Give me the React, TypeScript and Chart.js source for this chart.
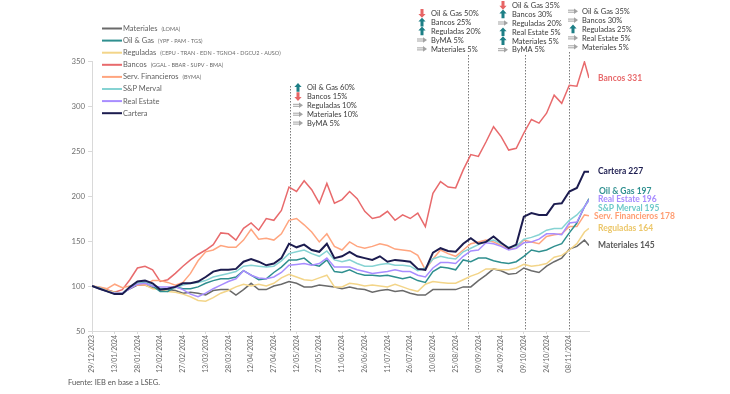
import React, { useEffect, useRef } from "react";
import { Chart, registerables } from "chart.js";
Chart.register(...registerables);

// days elapsed since 29/12/2023
const days = [0,5,10,15,20,25,30,35,40,45,50,55,60,65,70,75,80,85,90,95,100,105,110,115,120,125,130,135,140,145,150,155,160,165,170,175,180,185,190,195,200,205,210,215,220,225,230,235,240,245,250,255,260,265,270,275,280,285,290,295,300,305,310,315,320,325,328];

const materiales = [100,98,95,93,92,97,101,101,98,97,96,95,92,93,92,90,95,96,96,90,96,103,96,96,100,102,105,103,99,99,101,100,99,97,99,97,96,93,95,96,94,95,92,90,90,96,96,96,96,99,99,106,112,119,117,113,114,120,117,115,122,127,131,141,144,151,145];
const oilGas = [100,97,94,91,91,98,104,104,100,94,94,99,97,97,99,103,106,108,108,110,117,112,107,108,115,121,129,129,131,124,122,129,116,115,118,114,112,112,111,112,110,108,110,106,104,116,121,120,118,129,127,131,131,128,126,125,127,133,140,138,140,144,147,159,170,188,197];
const reguladas = [100,98,95,93,92,98,102,101,97,96,94,93,91,88,84,83,87,92,95,99,102,100,102,100,103,109,113,110,107,106,109,112,99,99,103,102,100,101,100,99,102,99,96,94,102,105,104,103,103,107,111,114,119,119,118,118,120,124,122,123,125,132,134,140,147,160,164];
const bancos = [100,98,96,93,96,107,120,122,118,105,107,114,122,129,135,140,146,159,158,151,164,170,162,175,173,184,210,205,217,207,192,214,192,196,205,197,183,175,177,183,173,179,175,181,166,203,216,210,209,229,246,244,260,277,266,251,253,270,285,281,292,312,303,323,322,349,331];
const servFinancieros = [100,99,97,102,98,100,101,101,106,106,104,101,104,114,128,138,140,145,143,143,151,163,152,153,151,158,173,175,168,160,149,158,144,140,149,144,142,144,147,145,141,140,139,134,118,130,140,136,133,140,147,149,151,149,145,141,142,151,149,147,155,157,158,166,166,179,178];
const merval = [100,98,94,92,92,99,104,105,101,97,97,98,101,103,104,106,110,112,114,116,122,123,122,121,122,128,136,138,140,136,133,139,129,127,129,125,122,122,124,125,123,123,122,117,120,130,133,131,130,138,142,146,149,151,147,143,144,152,154,157,162,164,164,173,179,188,195];
const realEstate = [100,97,94,92,92,97,102,103,100,99,99,99,96,91,88,92,97,101,105,108,117,112,109,108,110,115,123,124,125,123,125,131,121,121,121,118,116,114,115,116,118,116,116,112,110,120,126,126,125,133,139,140,148,147,144,140,142,148,149,152,158,158,157,170,171,188,196];
const cartera = [100,97,94,91,91,99,105,106,103,96,97,99,103,103,105,110,116,118,118,119,127,130,127,123,125,131,147,143,146,140,138,147,131,133,138,133,131,129,133,127,129,128,127,119,118,137,142,139,138,147,153,147,149,155,148,142,146,177,181,179,179,191,192,205,209,227,227];

const seriesNames = ["Materiales", "Oil & Gas", "Reguladas", "Bancos", "Serv. Financieros", "S&P Merval", "Real Estate", "Cartera"];
const seriesTickers = ["(LOMA)", "(YPF - PAM - TGS)", "(CEPU - TRAN - EDN - TGNO4 - DGCU2 - AUSO)", "(GGAL - BBAR - SUPV - BMA)", "(BYMA)", "", "", ""];
const seriesValues = [materiales, oilGas, reguladas, bancos, servFinancieros, merval, realEstate, cartera];

const tickLabels = ["29/12/2023","13/01/2024","28/01/2024","12/02/2024","27/02/2024","13/03/2024","28/03/2024","12/04/2024","27/04/2024","12/05/2024","27/05/2024","11/06/2024","26/06/2024","11/07/2024","26/07/2024","10/08/2024","25/08/2024","09/09/2024","24/09/2024","09/10/2024","24/10/2024","08/11/2024"];
const yTicks = [50, 100, 150, 200, 250, 300, 350];

// rebalancing events (days since 29/12/2023) and portfolio changes
const eventDays = [131, 248, 286, 315];
const eventRows = [
  [["up", "Oil & Gas 60%"], ["down", "Bancos 15%"], ["right", "Reguladas 10%"], ["right", "Materiales 10%"], ["right", "ByMA 5%"]],
  [["down", "Oil & Gas 50%"], ["up", "Bancos 25%"], ["up", "Reguladas 20%"], ["right", "ByMA 5%"], ["right", "Materiales 5%"]],
  [["down", "Oil & Gas 35%"], ["up", "Bancos 30%"], ["right", "Reguladas 20%"], ["up", "Real Estate 5%"], ["up", "Materiales 5%"], ["right", "ByMA 5%"]],
  [["right", "Oil & Gas 35%"], ["right", "Bancos 30%"], ["up", "Reguladas 25%"], ["right", "Real Estate 5%"], ["right", "Materiales 5%"]],
];

const STYLE = {
  colors: ["#6a6a6a", "#2f8f8f", "#f3d589", "#e86a6c", "#ffa57f", "#86d3d3", "#a88dff", "#1c1c4f"],
  labelColors: ["#5a5a5a", "#2f9090", "#ecc76a", "#e86a6c", "#ff9d72", "#6fcaca", "#a88dff", "#1c1c4f"],
  widths: [1.5, 1.5, 1.5, 1.5, 1.5, 1.5, 1.5, 2],
  endLabelDx: [9, 10, 9, 9, 5, 9, 9, 9],
  endLabelDy: [0, -7.5, 0, 0, 0, 7.5, 0, 0],
  eventLineTop: [86, 55, 55, 52],
  annBoxes: [{ x: 298, y: 87.5 }, { x: 422, y: 13.3 }, { x: 503, y: 5.2 }, { x: 573, y: 11.2 }],
  annRowH: 8.9,
  legend: { x: 102, y: 28.5, rowH: 12.1 },
};

function drawArrow(ctx: CanvasRenderingContext2D, kind: string, cx: number, cy: number) {
  ctx.save();
  if (kind === "up" || kind === "down") {
    const s = kind === "up" ? 1 : -1;
    ctx.fillStyle = kind === "up" ? "#1d7f86" : "#e76565";
    ctx.beginPath();
    ctx.moveTo(cx, cy - 4.5 * s);
    ctx.lineTo(cx + 3.6, cy - 0.6 * s);
    ctx.lineTo(cx + 1.5, cy - 0.6 * s);
    ctx.lineTo(cx + 1.5, cy + 4.2 * s);
    ctx.lineTo(cx - 1.5, cy + 4.2 * s);
    ctx.lineTo(cx - 1.5, cy - 0.6 * s);
    ctx.lineTo(cx - 3.6, cy - 0.6 * s);
    ctx.closePath();
    ctx.fill();
  } else {
    ctx.strokeStyle = "#a3a3a3";
    ctx.fillStyle = "#a3a3a3";
    ctx.lineWidth = 1;
    ctx.beginPath();
    ctx.moveTo(cx - 5, cy - 1);
    ctx.lineTo(cx + 2, cy - 1);
    ctx.moveTo(cx - 5, cy + 1);
    ctx.lineTo(cx + 2, cy + 1);
    ctx.stroke();
    ctx.beginPath();
    ctx.moveTo(cx + 1, cy - 2.8);
    ctx.lineTo(cx + 5, cy);
    ctx.lineTo(cx + 1, cy + 2.8);
    ctx.closePath();
    ctx.fill();
  }
  ctx.restore();
}

const overlayPlugin = {
  id: "overlay",
  beforeDatasetsDraw(chart: any) {
    const { ctx, chartArea, scales } = chart;
    ctx.save();
    ctx.strokeStyle = "#7a7a7a";
    ctx.lineWidth = 1;
    ctx.setLineDash([1.5, 1.5]);
    eventDays.forEach((d, i) => {
      const px = Math.round(scales.x.getPixelForValue(d)) + 0.5;
      ctx.beginPath();
      ctx.moveTo(px, STYLE.eventLineTop[i]);
      ctx.lineTo(px, chartArea.bottom);
      ctx.stroke();
    });
    ctx.restore();
  },
  afterDraw(chart: any) {
    const { ctx } = chart;
    ctx.save();
    // legend
    const lg = STYLE.legend;
    seriesNames.forEach((name, i) => {
      const y = lg.y + i * lg.rowH;
      ctx.strokeStyle = STYLE.colors[i];
      ctx.lineWidth = 2;
      ctx.beginPath();
      ctx.moveTo(lg.x, y);
      ctx.lineTo(lg.x + 20, y);
      ctx.stroke();
      ctx.fillStyle = "#5f5f5f";
      ctx.textBaseline = "middle";
      ctx.font = "7.5px Lato";
      ctx.fillText(name, lg.x + 21, y);
      const w = ctx.measureText(name).width;
      if (seriesTickers[i]) {
        ctx.font = "5.5px Lato";
        ctx.fillStyle = "#6a6a6a";
        ctx.fillText(seriesTickers[i], lg.x + 21 + w + 4, y + 0.3);
      }
    });
    // annotations
    eventRows.forEach((rows, k) => {
      const b = STYLE.annBoxes[k];
      rows.forEach((r, j) => {
        const y = b.y + j * STYLE.annRowH;
        drawArrow(ctx, r[0], b.x, y);
        ctx.fillStyle = "#3a3a3a";
        ctx.font = "7.5px Lato";
        ctx.textBaseline = "middle";
        ctx.fillText(r[1], b.x + 9, y + 0.3);
      });
    });
    // end labels
    chart.data.datasets.forEach((ds: any, i: number) => {
      const meta = chart.getDatasetMeta(i);
      const pt = meta.data[meta.data.length - 1];
      const v = ds.data[ds.data.length - 1].y;
      ctx.fillStyle = STYLE.labelColors[i];
      ctx.font = "bold 8.5px Lato";
      ctx.textBaseline = "middle";
      ctx.fillText(`${seriesNames[i]} ${v}`, pt.x + STYLE.endLabelDx[i], pt.y + STYLE.endLabelDy[i]);
    });
    // source
    ctx.fillStyle = "#555555";
    ctx.font = "7.5px Lato";
    ctx.textBaseline = "middle";
    ctx.fillText("Fuente: IEB en base a LSEG.", 68, 383);
    ctx.restore();
  },
};

export default function App() {
  const ref = useRef<HTMLCanvasElement | null>(null);
  useEffect(() => {
    document.body.style.margin = "0";
    const canvas = ref.current!;
    const drawOrder = [7, 6, 5, 1, 4, 2, 0, 3];
    const chart = new Chart(canvas, {
      type: "line",
      data: {
        datasets: seriesValues.map((vals, i) => ({
          label: seriesNames[i],
          data: vals.map((v, j) => ({ x: days[j], y: v })),
          borderColor: STYLE.colors[i],
          backgroundColor: STYLE.colors[i],
          borderWidth: STYLE.widths[i],
          pointRadius: 0,
          tension: 0,
          fill: false,
          order: drawOrder.indexOf(i),
        })),
      },
      options: {
        animation: false,
        responsive: false,
        devicePixelRatio: 1,
        layout: { padding: { left: 0, right: 141, top: 61, bottom: 0 } },
        plugins: { legend: { display: false }, tooltip: { enabled: false } },
        scales: {
          x: {
            type: "linear",
            min: 0,
            max: days[days.length - 1],
            afterBuildTicks: (s: any) => {
              s.ticks = tickLabels.map((_, i) => ({ value: i * 15 }));
            },
            afterFit: (s: any) => {
              s.height = 63;
            },
            ticks: {
              autoSkip: false,
              minRotation: 90,
              maxRotation: 90,
              padding: 1,
              color: "#666666",
              font: { family: "Lato", size: 6.8 },
              callback: (_v: any, idx: number) => tickLabels[idx] ?? "",
            },
            grid: { drawOnChartArea: false, tickLength: 3, color: "#d9d9d9" },
            border: { color: "#d9d9d9" },
          },
          y: {
            min: yTicks[0],
            max: yTicks[yTicks.length - 1],
            afterBuildTicks: (s: any) => {
              s.ticks = yTicks.map((v) => ({ value: v }));
            },
            afterFit: (s: any) => {
              s.width = 92;
            },
            ticks: {
              padding: 3,
              color: "#6f6f6f",
              font: { family: "Lato", size: 7.8 },
              callback: (v: any) => String(v),
            },
            grid: { drawOnChartArea: false, tickLength: 4, color: "#d9d9d9" },
            border: { color: "#d9d9d9" },
          },
        },
      },
      plugins: [overlayPlugin],
    } as any);
    return () => chart.destroy();
  }, []);
  return (
    <div style={{ width: 730, height: 394, background: "#fff" }}>
      <canvas ref={ref} width={730} height={394} style={{ display: "block" }} />
    </div>
  );
}
